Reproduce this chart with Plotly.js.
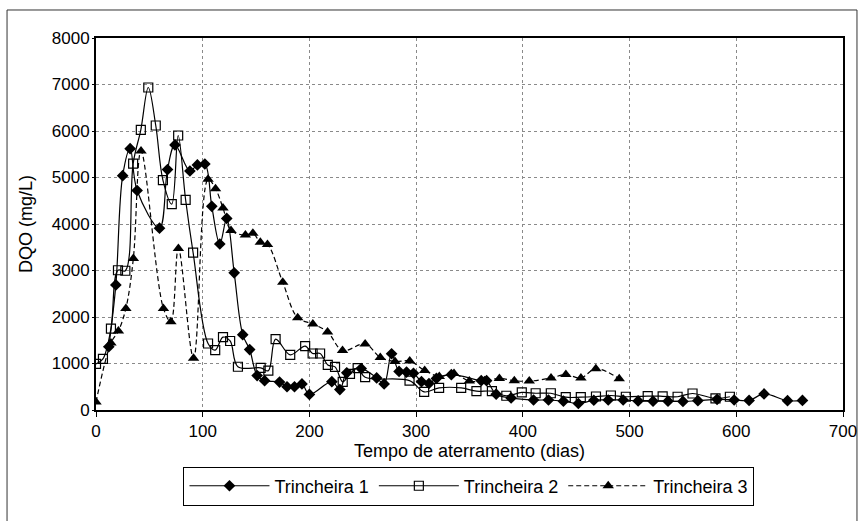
<!DOCTYPE html>
<html>
<head>
<meta charset="utf-8">
<script src="https://cdn.plot.ly/plotly-3.0.1.min.js"></script>
<style>html,body{margin:0;padding:0;background:#fff;}#chart{width:866px;height:521px;}</style>
</head>
<body>
<div id="chart"></div>
<script>
// Trincheira 1 (diamonds)
const t1Days = [12, 18.6, 25, 32, 38.5, 59.5, 67, 74, 88, 95, 102, 108.5, 116, 122.5, 129.5, 137.5, 144, 151, 158, 172, 179, 186, 193, 200, 221, 228.5, 235, 248.5, 263, 270, 277, 284, 291, 297.5, 305, 312, 319, 333, 361, 366, 375, 389, 410, 424, 438, 452, 466.5, 480, 494, 508, 522, 536, 550, 564, 582, 598, 612, 626, 648, 662];
const t1Dqo = [1360, 2690, 5040, 5620, 4720, 3910, 5170, 5700, 5140, 5270, 5290, 4380, 3570, 4120, 2950, 1620, 1300, 740, 630, 600, 500, 500, 560, 335, 610, 440, 800, 890, 690, 560, 1210, 830, 815, 790, 610, 570, 680, 760, 630, 630, 340, 260, 215, 215, 190, 140, 210, 215, 215, 195, 190, 190, 185, 200, 230, 215, 205, 345, 200, 205];

// Trincheira 2 (open squares)
const t2Days = [0, 6.5, 14, 20.6, 27.5, 34.8, 42, 49, 56, 62.7, 71, 77, 84, 91, 105, 111.7, 119, 125.7, 133, 154.3, 161.5, 168.3, 182, 196, 203, 210, 217.2, 224, 231.2, 238, 245.2, 252.2, 293.8, 307.5, 321.5, 342.2, 356.5, 371, 384.5, 399, 412, 426.2, 440.2, 454.3, 468.5, 482.5, 496.5, 517, 531, 545, 559, 580.5, 594];
const t2Dqo = [990, 1100, 1750, 3005, 2995, 5300, 6025, 6935, 6118, 4945, 4428, 5903, 4517, 3383, 1430, 1287, 1567, 1484, 930, 906, 845, 1524, 1187, 1375, 1215, 1215, 970, 927, 605, 778, 900, 705, 633, 390, 475, 475, 404, 404, 306, 378, 360, 360, 275, 275, 290, 312, 285, 300, 295, 285, 355, 250, 285];

// Trincheira 3 (triangles, dashed)
const t3Days = [0, 14, 21, 28, 35, 42.2, 63.2, 70.2, 77.2, 91.4, 105, 112, 119, 126.5, 140, 147, 154, 160.7, 175, 189, 203.2, 217, 231, 252.2, 266.4, 280.2, 294, 308, 321.7, 335.5, 349.8, 364, 378, 392, 406, 426.4, 440.3, 454.4, 468.4, 490.3];
const t3Dqo = [170, 1440, 1700, 2185, 3260, 5570, 2185, 1900, 3475, 1115, 4962, 4758, 4345, 3862, 3763, 3800, 3608, 3560, 2747, 1983, 1850, 1680, 1280, 1420, 1130, 1045, 1052, 851, 722, 785, 621, 628, 680, 630, 621, 690, 762, 690, 888, 672];

const seriesNames = ['Trincheira 1', 'Trincheira 2', 'Trincheira 3'];
const xTicks = [0, 100, 200, 300, 400, 500, 600, 700];
const yTicks = [0, 1000, 2000, 3000, 4000, 5000, 6000, 7000, 8000];

const FONT = 'Arial, "Liberation Sans", sans-serif';

const traces = [
  {x: t1Days, y: t1Dqo, name: seriesNames[0], mode: 'lines+markers', type: 'scatter',
   line: {color: '#000', width: 1.2, shape: 'spline', smoothing: 1},
   marker: {symbol: 'diamond', size: 9, color: '#000'}},
  {x: t2Days, y: t2Dqo, name: seriesNames[1], mode: 'lines+markers', type: 'scatter',
   line: {color: '#000', width: 1.2, shape: 'spline', smoothing: 1},
   marker: {symbol: 'square-open', size: 9, color: '#000', line: {width: 1.2, color: '#000'}}},
  {x: t3Days, y: t3Dqo, name: seriesNames[2], mode: 'lines+markers', type: 'scatter',
   line: {color: '#000', width: 1.2, dash: '5px,3px', shape: 'spline', smoothing: 1},
   marker: {symbol: 'triangle-up', size: 10, color: '#000'}}
];

const layout = {
  width: 866, height: 521,
  margin: {l: 96, r: 23, t: 38, b: 111},
  paper_bgcolor: '#fff', plot_bgcolor: '#fff',
  font: {family: FONT, size: 17, color: '#000'},
  showlegend: true,
  legend: {
    orientation: 'h', x: 0.4993, xanchor: 'center', y: -0.152, yanchor: 'top',
    bordercolor: '#000', borderwidth: 1, bgcolor: '#fff',
    font: {family: FONT, size: 18, color: '#000'},
    itemwidth: 80, traceorder: 'normal', tracegroupgap: 0
  },
  xaxis: {
    range: [0, 700], tickvals: xTicks, ticktext: xTicks.map(String),
    showgrid: true, gridcolor: '#8a8a8a', griddash: 'dot', gridwidth: 1,
    showline: true, linecolor: '#000', linewidth: 2, mirror: true,
    ticks: 'outside', ticklen: 5, tickcolor: '#000', tickwidth: 1,
    zeroline: false,
    tickfont: {family: FONT, size: 17, color: '#000'},
    title: {text: 'Tempo de aterramento (dias)', font: {family: FONT, size: 18, color: '#000'}, standoff: 4}
  },
  yaxis: {
    range: [0, 8000], tickvals: yTicks, ticktext: yTicks.map(String),
    showgrid: true, gridcolor: '#8a8a8a', griddash: 'dot', gridwidth: 1,
    showline: true, linecolor: '#000', linewidth: 2, mirror: true,
    ticks: 'outside', ticklen: 2, tickcolor: '#000', tickwidth: 1,
    ticklabelstandoff: -1,
    zeroline: false, automargin: true,
    tickfont: {family: FONT, size: 17, color: '#000'},
    title: {text: 'DQO (mg/L)', font: {family: FONT, size: 18, color: '#000'}, standoff: 14}
  },
  shapes: [
    {type: 'rect', xref: 'paper', yref: 'paper', x0: -0.1191, x1: 1.0187, y0: -0.32, y1: 1.0753,
     line: {color: '#333', width: 1}, fillcolor: 'rgba(0,0,0,0)', layer: 'below'}
  ]
};

Plotly.newPlot('chart', traces, layout, {displayModeBar: false, staticPlot: true});
</script>
</body>
</html>
